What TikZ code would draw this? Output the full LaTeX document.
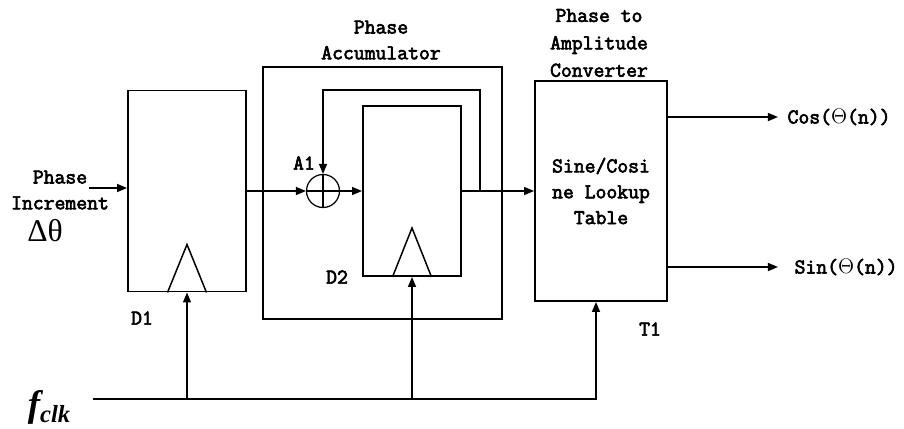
\documentclass[tikz,border=0pt]{standalone}
\usepackage{fontspec}
\newfontfamily\dfont[FakeBold=3]{Latin Modern Mono}
\newfontfamily\gfont{Liberation Serif}
\usetikzlibrary{arrows.meta, positioning}

\begin{document}
\begin{tikzpicture}[>={Triangle[length=2mm,width=1.6mm]}, line width=0.85pt,
      blk/.style={draw, line width=1.1pt, inner sep=0pt, align=center,
                  font=\dfont\fontsize{12}{14.7}\selectfont},
      lbl/.style={font=\dfont\fontsize{12}{14.7}\selectfont, align=center},
      sum/.style={draw, circle, line width=0.7pt, minimum size=0.66cm, inner sep=0pt},
      arr/.style={->}]

    \useasboundingbox (0,0) rectangle (18.08,8.56);

    \def\ym{4.74}  % level of the main signal path

    % Blocks
    \node[blk, minimum width=2.36cm, minimum height=4.02cm] (D1)  at (3.74,\ym) {};
    \node[blk, minimum width=4.78cm, minimum height=5.04cm] (acc) at (7.65,4.70) {};
    \node[blk, minimum width=1.96cm, minimum height=3.40cm] (D2)  at (8.24,\ym) {};
    \node[blk, minimum width=2.64cm, minimum height=4.40cm] (T1)  at (12.02,\ym)
          {Sine/Cosi\\ne Lookup\\Table};
    \node[sum] (add) at (6.46,\ym) {};
    \draw[line width=0.7pt] (add.north) -- (add.south) (add.west) -- (add.east);

    % Clock edge marks
    \draw ([xshift=-0.39cm]D1.south) -- ([yshift=0.96cm]D1.south) -- ([xshift=0.39cm]D1.south);
    \draw ([xshift=-0.39cm]D2.south) -- ([yshift=0.98cm]D2.south) -- ([xshift=0.39cm]D2.south);

    % Labels
    \node[lbl] (tacc) at (7.62,7.76) {Phase\\Accumulator};
    \node[lbl, font=\dfont\fontsize{12}{15.6}\selectfont] (tconv) at (11.98,7.70)
          {Phase to\\Amplitude\\Converter};
    \node[lbl] (inc) at (1.20,4.76) {Phase\\Increment};
    \node[lbl, font=\gfont\fontsize{18}{18}\selectfont] (dth) at (0.90,3.94) {Δθ};
    \node[lbl] (lD1) at (2.84,2.20) {D1};
    \node[lbl] (lD2) at (6.74,3.02) {D2};
    \node[lbl] (lT1) at (13.00,1.98) {T1};
    \node[lbl] (lA1) at (6.08,5.30) {A1};
    \node[lbl, anchor=west] (cos) at (15.62,6.22) {Cos($\Theta$(n))};
    \node[lbl, anchor=west] (sin) at (15.76,3.22) {Sin($\Theta$(n))};
    \node[font=\gfont\bfseries\itshape\fontsize{21}{22}\selectfont] (fclk) at (0.98,0.42)
          {f\raisebox{-0.4ex}{\fontsize{14}{15}\selectfont clk}};

    % Signal path
    \coordinate (inp) at (1.78,4.80);
    \draw[arr] (inp) -- (inp -| D1.west);
    \draw[arr] (D1.east) -- (add.west);
    \draw[arr] (add.east) -- (D2.west);
    \draw[arr] (D2.east) -- (T1.west);

    % Feedback into the adder
    \coordinate (fb) at (9.60,\ym);
    \coordinate (fbtop) at (9.60,6.76);
    \draw[arr] (fb) -- (fbtop) -| (add.north);

    % Outputs
    \draw[arr] (T1.east |- cos) -- ++(2.2,0);
    \draw[arr] (T1.east |- sin) -- ++(2.2,0);

    % Clock distribution
    \coordinate (clk) at (1.86,0.58);
    \coordinate (clkT) at ([xshift=-0.1cm]T1.south);
    \draw[arr] (clk) -| (clkT);
    \draw[arr] (clk -| D1.south) -- (D1.south);
    \draw[arr] (clk -| D2.south) -- (D2.south);

\end{tikzpicture}
\end{document}
